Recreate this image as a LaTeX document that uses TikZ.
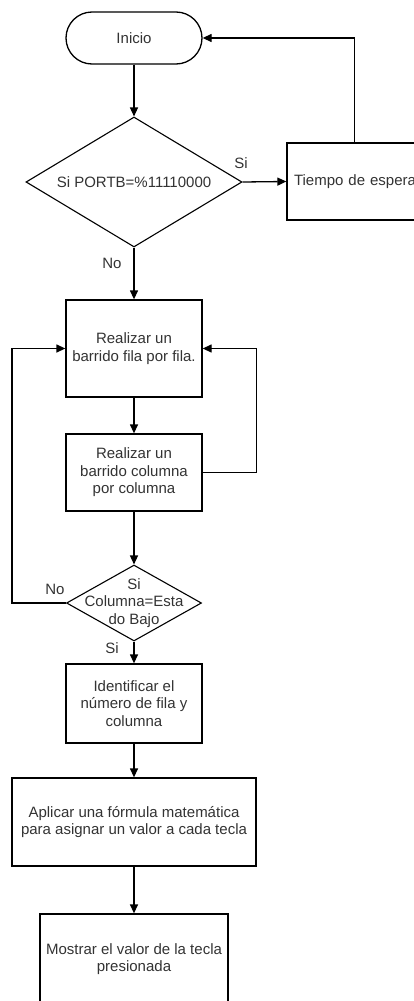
\documentclass[tikz,border=0pt]{standalone}
\usepackage{fontspec}
\setmainfont{Liberation Sans}
\usetikzlibrary{shapes.geometric,arrows.meta,calc}
\tikzset{
  base/.style={draw=black, line width=1.3pt, inner sep=0pt, font=\fontsize{15}{17.5}\selectfont, text=black!80, align=center},
  boxnode/.style={base, rectangle},
  termnode/.style={base, rectangle, rounded corners=26pt},
  dianode/.style={base, diamond, line width=1.1pt},
  txt/.style={inner sep=0pt, font=\fontsize{15}{17.5}\selectfont, text=black!80, align=center},
  arr/.style={line width=1.3pt, -{Triangle[length=9pt,width=8pt]}},
  ln/.style={line width=1.3pt}
}
\begin{document}
\begin{tikzpicture}[x=1pt,y=-1pt]
\useasboundingbox (0,0) rectangle (414,1001);
\clip (0,0) rectangle (414,1001);
\fill[white] (0,0) rectangle (414,1001);
% nodes
\node[termnode, minimum width=136pt, minimum height=52pt] (inicio) at (134,38) {Inicio};
\node[dianode, minimum width=216pt, minimum height=130pt] (d1) at (134,182) {};
\node[txt] (d1t) at (d1) {Si PORTB=\%11110000};
\node[boxnode, minimum width=150pt, minimum height=77pt, text width=136pt, inner xsep=7pt, align=left] (tiempo) at (362,181.5) {Tiempo de espera};
\node[boxnode, minimum width=136pt, minimum height=97pt] (b1) at (134,348.5) {Realizar un\\barrido fila por fila.};
\node[boxnode, minimum width=136pt, minimum height=77pt] (b2) at (134,472.5) {Realizar un\\barrido columna\\por columna};
\node[dianode, minimum width=135pt, minimum height=76pt] (d2) at (134,603) {};
\node[txt] (d2t) at (d2) {Si\\Columna=Esta\\do Bajo};
\node[boxnode, minimum width=136pt, minimum height=79pt] (b3) at (134,703.5) {Identificar el\\número de fila y\\columna};
\node[boxnode, minimum width=244pt, minimum height=88pt] (b4) at (134,822) {Aplicar una fórmula matemática\\para asignar un valor a cada tecla};
\node[boxnode, minimum width=188pt, minimum height=90pt] (b5) at (134,959) {Mostrar el valor de la tecla\\presionada};
% labels
\node[txt] (lsi1) at (241,163) {Si};
\node[txt] (lno1) at (112,263) {No};
\node[txt] (lno2) at (55,589) {No};
\node[txt] (lsi2) at (112,648) {Si};
% connectors
\draw[arr] (inicio.south) -- (d1.north);
\draw[arr] (d1.east) -- (tiempo.west);
\draw[arr] ($(tiempo.north west)+(68,0)$) |- (inicio.east);
\draw[arr] (d1.south) -- (b1.north);
\draw[arr] (b1.south) -- (b2.north);
\draw[arr] (b2.east) -- ++(54,0) |- (b1.east);
\draw[arr] (b2.south) -- (d2.north);
\draw[arr] (d2.west) -- ++(-54,0) |- (b1.west);
\draw[arr] (d2.south) -- (b3.north);
\draw[arr] (b3.south) -- (b4.north);
\draw[arr] (b4.south) -- (b5.north);
\end{tikzpicture}
\end{document}
